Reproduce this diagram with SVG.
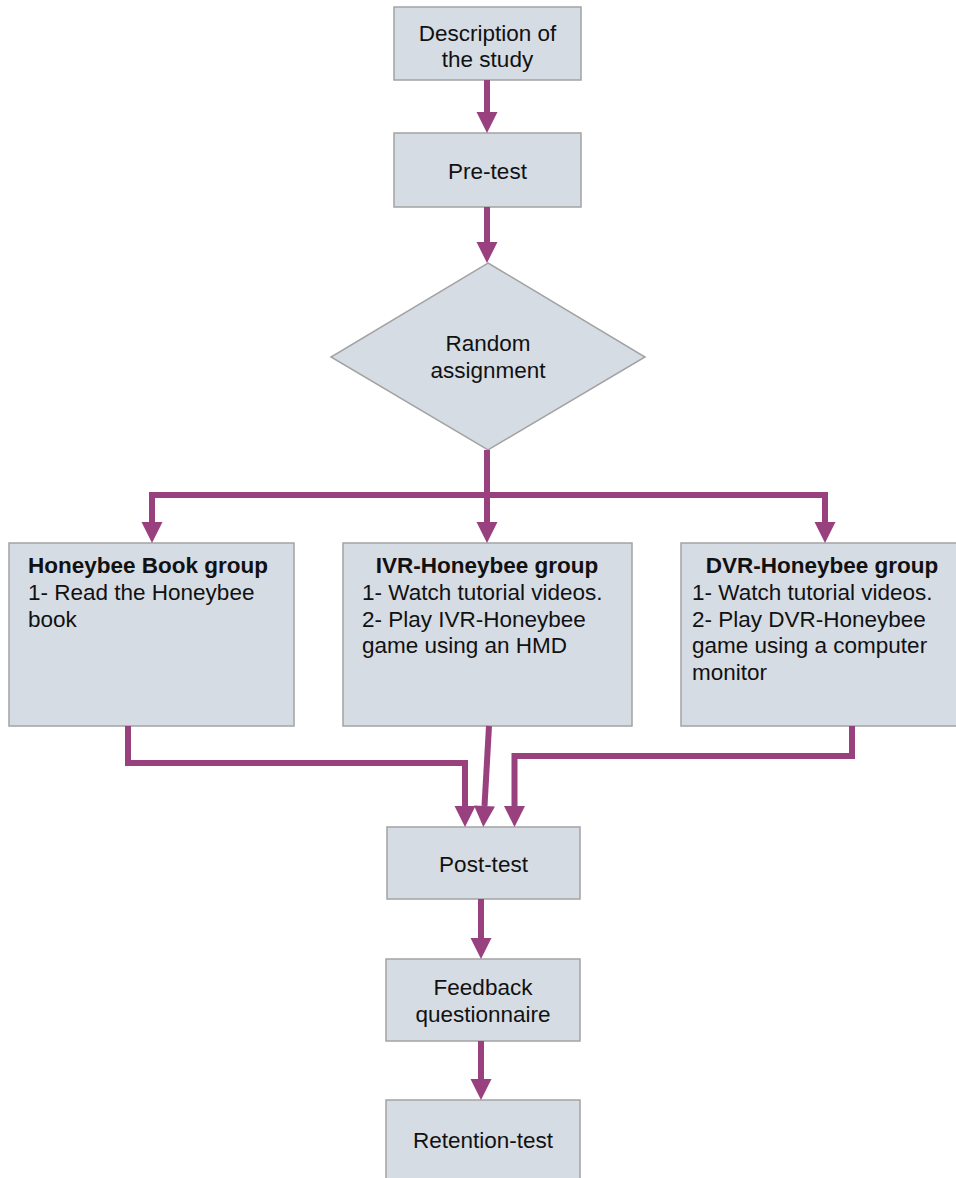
<svg xmlns="http://www.w3.org/2000/svg" width="956" height="1178" viewBox="0 0 956 1178">
<style>
.box{fill:#D6DCE4;stroke:#A3A3A3;stroke-width:1.5}
.t{font-family:"Liberation Sans",Arial,sans-serif;font-size:22.5px;fill:#111}
.c{text-anchor:middle}
.b{font-weight:bold}
.conn path{fill:none;stroke:#99407F;stroke-width:6;stroke-linejoin:miter;marker-end:url(#ah)}
</style>
<defs>
<marker id="ah" markerUnits="userSpaceOnUse" markerWidth="22" markerHeight="22" refX="0" refY="10.5" orient="auto" overflow="visible">
<path d="M0,0 L21,10.5 L0,21 z" fill="#99407F"/>
</marker>
</defs>
<rect width="956" height="1178" fill="#fff"/>
<g id="description">
<rect class="box" x="394" y="7" width="187" height="73"/>
<text class="t c" x="487.5" y="40.5">Description of</text>
<text class="t c" x="487.5" y="67">the study</text>
</g>
<g id="pretest">
<rect class="box" x="394" y="133" width="187" height="74"/>
<text class="t c" x="487.5" y="179">Pre-test</text>
</g>
<g id="random">
<polygon class="box" points="488,263 645,357 488,450 331,357"/>
<text class="t c" x="488" y="351">Random</text>
<text class="t c" x="488" y="378">assignment</text>
</g>
<g id="book">
<rect class="box" x="9" y="543" width="285" height="183"/>
<text class="t b" x="28" y="573">Honeybee Book group</text>
<text class="t" x="28" y="600">1- Read the Honeybee</text>
<text class="t" x="28" y="627">book</text>
</g>
<g id="ivr">
<rect class="box" x="343" y="543" width="289" height="183"/>
<text class="t b c" x="487" y="573">IVR-Honeybee group</text>
<text class="t" x="362" y="600">1- Watch tutorial videos.</text>
<text class="t" x="362" y="626.5">2- Play IVR-Honeybee</text>
<text class="t" x="362" y="653">game using an HMD</text>
</g>
<g id="dvr">
<rect class="box" x="681" y="543" width="280" height="183"/>
<text class="t b c" x="822" y="573">DVR-Honeybee group</text>
<text class="t" x="692" y="600">1- Watch tutorial videos.</text>
<text class="t" x="692" y="626.5">2- Play DVR-Honeybee</text>
<text class="t" x="692" y="653">game using a computer</text>
<text class="t" x="692" y="680">monitor</text>
</g>
<g id="posttest">
<rect class="box" x="387" y="827" width="193" height="72"/>
<text class="t c" x="483.5" y="871.5">Post-test</text>
</g>
<g id="feedback">
<rect class="box" x="386" y="959" width="194" height="82"/>
<text class="t c" x="483" y="995">Feedback</text>
<text class="t c" x="483" y="1021.5">questionnaire</text>
</g>
<g id="retention">
<rect class="box" x="386" y="1100" width="194" height="85"/>
<text class="t c" x="483" y="1148">Retention-test</text>
</g>
<g id="connectors" class="conn">
<path d="M487,80 V112"/>
<path d="M487,207 V242"/>
<path d="M487,450 V522"/>
<path d="M487,495 H152 V522"/>
<path d="M487,495 H825 V522"/>
<path d="M128,726 V763 H465 V806"/>
<path d="M489,726 L484.5,806"/>
<path d="M852,726 V756 H514.5 V806"/>
<path d="M481,899 V938"/>
<path d="M481,1041 V1079"/>
</g>
</svg>
